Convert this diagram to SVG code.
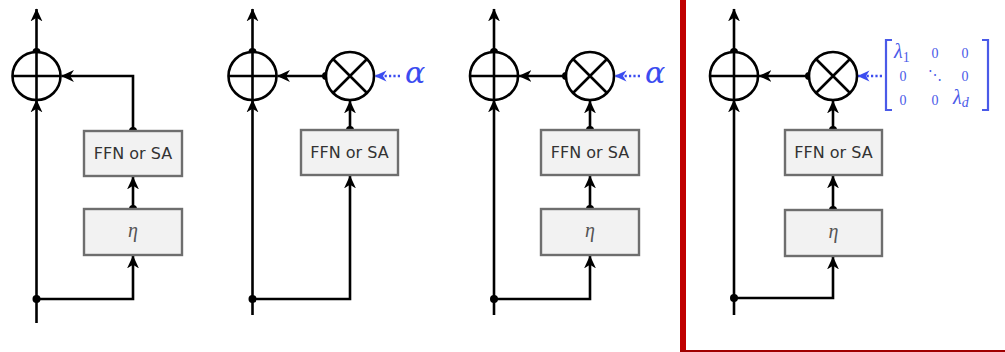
<svg xmlns="http://www.w3.org/2000/svg" width="1005" height="352" viewBox="0 0 1005 352">
<style>
.ln{fill:none;stroke:#000;stroke-width:2.6}
.op{fill:#fff;stroke:#000;stroke-width:2.6}
.bx{fill:#f2f2f2;stroke:#6e6e6e;stroke-width:2.4}
.lbl{font-family:"DejaVu Sans",sans-serif;font-size:16px;fill:#333;text-anchor:middle}
.eta{font-family:"Liberation Serif",serif;font-style:italic;font-size:20px;fill:#555;text-anchor:middle}
.dt{fill:#000}
.bl{fill:none;stroke:#3b4cf0;stroke-width:2.4;stroke-dasharray:2.2,2.2}
.al{font-family:"DejaVu Serif",serif;font-style:italic;font-size:30px;fill:#3b4cf0}
.mx{font-family:"Liberation Serif","DejaVu Serif",serif;font-size:14px;fill:#4a5ae8;text-anchor:middle}
.lam{font-family:"Liberation Serif",serif;font-style:italic;font-size:20px;fill:#4a5ae8}
.br{fill:none;stroke:#4a5ae8;stroke-width:2.2}
</style>
<defs>
<marker id="ah" viewBox="0 0 12 12" refX="11.5" refY="6" markerWidth="13" markerHeight="13" markerUnits="userSpaceOnUse" orient="auto"><path d="M0,0.5 L12,6 L0,11.5 L3.5,6 z" fill="#000"/></marker>
<marker id="bh" viewBox="0 0 12 12" refX="11.5" refY="6" markerWidth="12" markerHeight="12" markerUnits="userSpaceOnUse" orient="auto"><path d="M0,0.5 L12,6 L0,11.5 L3.5,6 z" fill="#3b4cf0"/></marker>
</defs>

<!-- frame -->
<rect x="680" y="0" width="6" height="352" fill="#c00000"/>
<rect x="680" y="350" width="325" height="2" fill="#a00000"/>

<g id="connectors">
<!-- panel 1 -->
<path class="ln" d="M36.5,52 L36.5,9" marker-end="url(#ah)"/>
<path class="ln" d="M36.5,323 L36.5,100" marker-end="url(#ah)"/>
<path class="ln" d="M36.5,299 L133,299 L133,256" marker-end="url(#ah)"/>
<path class="ln" d="M133,209 L133,177" marker-end="url(#ah)"/>
<path class="ln" d="M133,131 L133,76 L61.5,76" marker-end="url(#ah)"/>
<!-- panel 2 -->
<path class="ln" d="M252.5,52 L252.5,9" marker-end="url(#ah)"/>
<path class="ln" d="M252.5,315 L252.5,100" marker-end="url(#ah)"/>
<path class="ln" d="M252.5,299 L350,299 L350,176" marker-end="url(#ah)"/>
<path class="ln" d="M350,130 L350,101" marker-end="url(#ah)"/>
<path class="ln" d="M326,76 L277.5,76" marker-end="url(#ah)"/>
<path class="bl" d="M400,76 L375,76" marker-end="url(#bh)"/>
<!-- panel 3 -->
<path class="ln" d="M494,52 L494,9" marker-end="url(#ah)"/>
<path class="ln" d="M494,315 L494,100" marker-end="url(#ah)"/>
<path class="ln" d="M494,299 L590,299 L590,256" marker-end="url(#ah)"/>
<path class="ln" d="M590,209 L590,176" marker-end="url(#ah)"/>
<path class="ln" d="M590,130 L590,101" marker-end="url(#ah)"/>
<path class="ln" d="M566,76 L519,76" marker-end="url(#ah)"/>
<path class="bl" d="M640,76 L615,76" marker-end="url(#bh)"/>
<!-- panel 4 -->
<path class="ln" d="M734,52 L734,9" marker-end="url(#ah)"/>
<path class="ln" d="M734,315 L734,100" marker-end="url(#ah)"/>
<path class="ln" d="M734,298 L833,298 L833,257" marker-end="url(#ah)"/>
<path class="ln" d="M833,210 L833,176" marker-end="url(#ah)"/>
<path class="ln" d="M833,130 L833,101" marker-end="url(#ah)"/>
<path class="ln" d="M809,76 L759,76" marker-end="url(#ah)"/>
<path class="bl" d="M882,76 L858,76" marker-end="url(#bh)"/>
<!-- dots -->
<circle class="dt" cx="36.5" cy="52" r="4"/><circle class="dt" cx="36.5" cy="299" r="4"/>
<circle class="dt" cx="133" cy="209" r="4"/><circle class="dt" cx="133" cy="131" r="4"/>
<circle class="dt" cx="252.5" cy="52" r="4"/><circle class="dt" cx="252.5" cy="299" r="4"/>
<circle class="dt" cx="350" cy="130" r="4"/><circle class="dt" cx="326" cy="76" r="4"/>
<circle class="dt" cx="494" cy="52" r="4"/><circle class="dt" cx="494" cy="299" r="4"/>
<circle class="dt" cx="590" cy="209" r="4"/><circle class="dt" cx="590" cy="130" r="4"/><circle class="dt" cx="566" cy="76" r="4"/>
<circle class="dt" cx="734" cy="52" r="4"/><circle class="dt" cx="734" cy="298" r="4"/>
<circle class="dt" cx="833" cy="210" r="4"/><circle class="dt" cx="833" cy="130" r="4"/><circle class="dt" cx="809" cy="76" r="4"/>
</g>

<!-- panel 1 nodes -->
<g id="p1-add"><circle class="op" cx="36.5" cy="76" r="24"/><path class="ln" d="M12.5,76 H60.5 M36.5,52 V100"/></g>
<g id="p1-ffn"><rect class="bx" x="84" y="131" width="98" height="45"/><text class="lbl" x="133" y="159">FFN or SA</text></g>
<g id="p1-eta"><rect class="bx" x="84" y="209" width="98" height="46"/><text class="eta" x="133" y="237">η</text></g>

<!-- panel 2 nodes -->
<g id="p2-add"><circle class="op" cx="252.5" cy="76" r="24"/><path class="ln" d="M228.5,76 H276.5 M252.5,52 V100"/></g>
<g id="p2-mul"><circle class="op" cx="350" cy="76" r="24"/><path class="ln" d="M333,59 L367,93 M367,59 L333,93"/></g>
<g id="p2-ffn"><rect class="bx" x="301" y="130" width="97" height="45"/><text class="lbl" x="349.5" y="158">FFN or SA</text></g>
<g id="p2-alpha"><text class="al" x="405" y="83">α</text></g>

<!-- panel 3 nodes -->
<g id="p3-add"><circle class="op" cx="494" cy="76" r="24"/><path class="ln" d="M470,76 H518 M494,52 V100"/></g>
<g id="p3-mul"><circle class="op" cx="590" cy="76" r="24"/><path class="ln" d="M573,59 L607,93 M607,59 L573,93"/></g>
<g id="p3-ffn"><rect class="bx" x="541" y="130" width="98" height="45"/><text class="lbl" x="590" y="158">FFN or SA</text></g>
<g id="p3-eta"><rect class="bx" x="541" y="209" width="98" height="46"/><text class="eta" x="590" y="237">η</text></g>
<g id="p3-alpha"><text class="al" x="645" y="83">α</text></g>

<!-- panel 4 nodes -->
<g id="p4-add"><circle class="op" cx="734" cy="76" r="24"/><path class="ln" d="M710,76 H758 M734,52 V100"/></g>
<g id="p4-mul"><circle class="op" cx="833" cy="76" r="24"/><path class="ln" d="M816,59 L850,93 M850,59 L816,93"/></g>
<g id="p4-ffn"><rect class="bx" x="785" y="130" width="97" height="45"/><text class="lbl" x="833.5" y="158">FFN or SA</text></g>
<g id="p4-eta"><rect class="bx" x="785" y="210" width="97" height="46"/><text class="eta" x="833.5" y="238">η</text></g>
<g id="p4-matrix">
<path class="br" d="M892,40 H886 V110 H892 M982,40 H988 V110 H982"/>
<text class="lam" x="894" y="58">λ<tspan font-style="normal" font-size="14" dy="4">1</tspan></text>
<text class="mx" x="935" y="58">0</text><text class="mx" x="965" y="58">0</text>
<text class="mx" x="903" y="81">0</text>
<text class="mx" x="935" y="80" font-family="DejaVu Sans,sans-serif" font-size="13">⋱</text>
<text class="mx" x="965" y="81">0</text>
<text class="mx" x="903" y="105">0</text><text class="mx" x="935" y="105">0</text>
<text class="lam" x="953" y="104">λ<tspan font-size="14" dy="3">d</tspan></text>
</g>
</svg>
